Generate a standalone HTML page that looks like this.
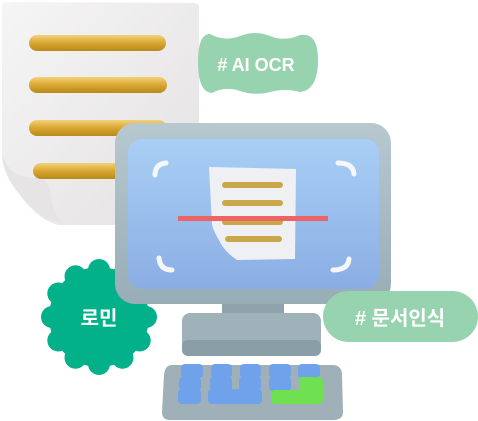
<!DOCTYPE html>
<html><head><meta charset="utf-8"><style>
html,body{margin:0;padding:0;background:#fff;}
body{width:478px;height:421px;overflow:hidden;position:relative;font-family:"Liberation Sans","Noto Sans CJK KR",sans-serif;}
</style></head><body>
<svg width="478" height="421" viewBox="0 0 478 421" xmlns="http://www.w3.org/2000/svg" style="position:absolute;left:0;top:0">
<defs>
<linearGradient id="gold" x1="0" y1="0" x2="0" y2="1"><stop offset="0" stop-color="#f3d27a"/><stop offset="0.5" stop-color="#d9a730"/><stop offset="1" stop-color="#b8891c"/></linearGradient>
<linearGradient id="paper" x1="0" y1="0" x2="1" y2="1"><stop offset="0" stop-color="#f6f5f5"/><stop offset="1" stop-color="#e3e1e1"/></linearGradient>
<linearGradient id="scr" x1="0" y1="0" x2="0" y2="1"><stop offset="0" stop-color="#a9cff6"/><stop offset="1" stop-color="#8aaee4"/></linearGradient>
<linearGradient id="bez" x1="0" y1="0" x2="0" y2="1"><stop offset="0" stop-color="#b7c8cf"/><stop offset="1" stop-color="#98adb6"/></linearGradient>
</defs>
<!-- paper -->
<path d="M2 6 Q2 2 8 2 L195 3 Q199 3 199 8 L199 225 L60 225 Q40 222 20 195 Q3 175 2 155 Z" fill="url(#paper)"/>
<path d="M2 155 Q10 178 35 178 Q48 178 50 190 Q52 212 62 222 Q40 222 20 195 Q3 175 2 155Z" fill="#e6e4e4"/>
<rect x="29" y="35" width="137" height="16" rx="8" fill="url(#gold)"/>
<rect x="29" y="77" width="138" height="16" rx="8" fill="url(#gold)"/>
<rect x="29" y="120" width="138" height="16" rx="8" fill="url(#gold)"/>
<rect x="33" y="163" width="134" height="16" rx="8" fill="url(#gold)"/>
<!-- AI OCR blob -->
<path d="M210 34 Q225 42 240 36 Q255 30 270 36 Q285 42 300 35 Q318 32 318 60 Q318 90 300 92 Q285 88 270 92 Q255 96 240 91 Q225 86 212 93 Q198 92 198 62 Q198 34 210 34Z" fill="#97d3ae"/>
<text x="256" y="71" font-size="18" font-weight="bold" fill="#fff" text-anchor="middle">#  AI OCR</text>
<!-- 로민 blob -->
<g fill="#02b08a">
<circle cx="99" cy="317" r="50"/>
<circle cx="99" cy="270" r="11"/><circle cx="122.5" cy="276.3" r="11"/><circle cx="139.7" cy="293.5" r="11"/><circle cx="146" cy="317" r="11"/><circle cx="139.7" cy="340.5" r="11"/><circle cx="122.5" cy="357.7" r="11"/><circle cx="99" cy="364" r="11"/><circle cx="75.5" cy="357.7" r="11"/><circle cx="58.3" cy="340.5" r="11"/><circle cx="52" cy="317" r="11"/><circle cx="58.3" cy="293.5" r="11"/><circle cx="75.5" cy="276.3" r="11"/>
</g>
<text x="99" y="325" font-size="20" font-weight="bold" fill="#fff" text-anchor="middle">로민</text>
<!-- stand -->
<rect x="222" y="296" width="62" height="28" fill="#8fa3ad"/>
<rect x="182" y="313" width="139" height="43" rx="8" fill="#9fb1b9"/>
<rect x="182" y="340" width="139" height="16" rx="6" fill="#8a9ea8"/>
<!-- monitor -->
<rect x="115" y="123" width="276" height="181" rx="20" fill="url(#bez)"/>
<rect x="128" y="139" width="251" height="150" rx="14" fill="url(#scr)"/>
<circle cx="344" cy="295" r="3.5" fill="#7f949e"/>
<circle cx="355" cy="295" r="4" fill="#6fdc4a"/>
<g fill="none" stroke="#f4f6f8" stroke-width="5" stroke-linecap="round">
<path d="M155 175 Q155 164 166 163"/>
<path d="M338 163 Q353 163 354 174"/>
<path d="M159 258 Q160 270 172 270"/>
<path d="M333 270 Q348 270 349 259"/>
</g>
<path d="M209 167 L296 169 L295 259 L237 260 Q225 252 220 242 Q214 232 212 225Z" fill="#eef0f4"/>
<rect x="222" y="182" width="61" height="6" rx="3" fill="#caa84a"/>
<rect x="222" y="200" width="61" height="6" rx="3" fill="#caa84a"/>
<rect x="222" y="219" width="61" height="6" rx="3" fill="#caa84a"/>
<rect x="225" y="236" width="57" height="6" rx="3" fill="#caa84a"/>
<rect x="178" y="216" width="150" height="5" fill="#ee6363"/>
<!-- 문서인식 pill -->
<rect x="323" y="291" width="155" height="51" rx="25.5" fill="#97d3ae"/>
<text x="400" y="325" font-size="20" font-weight="bold" fill="#fff" text-anchor="middle"># 문서인식</text>
<!-- keyboard -->
<path d="M172 365 L332 365 Q342 365 342 375 L343 412 Q343 420 333 420 L170 420 Q162 420 162 412 L164 375 Q165 365 172 365Z" fill="#9fb0b8"/>
<g fill="#6fa2ea">
<rect x="181" y="364" width="22" height="14" rx="4"/><rect x="211" y="364" width="21" height="14" rx="4"/><rect x="240" y="364" width="21" height="14" rx="4"/><rect x="269" y="364" width="22" height="14" rx="4"/><rect x="298" y="364" width="22" height="14" rx="4"/>
<rect x="179" y="377" width="22" height="14" rx="4"/><rect x="210" y="377" width="22" height="14" rx="4"/><rect x="239" y="377" width="22" height="14" rx="4"/><rect x="269" y="377" width="22" height="14" rx="4"/>
<rect x="178" y="389" width="23" height="15" rx="4"/><rect x="208" y="389" width="54" height="15" rx="4"/>
</g>
<path d="M303 377 L318 377 Q323 377 323 382 L323 399 Q323 404 318 404 L275 404 Q271 404 271 400 L271 394 Q271 390 275 390 L299 390 L299 381 Q299 377 303 377Z" fill="#6fe04f"/>
</svg>
</body></html>
